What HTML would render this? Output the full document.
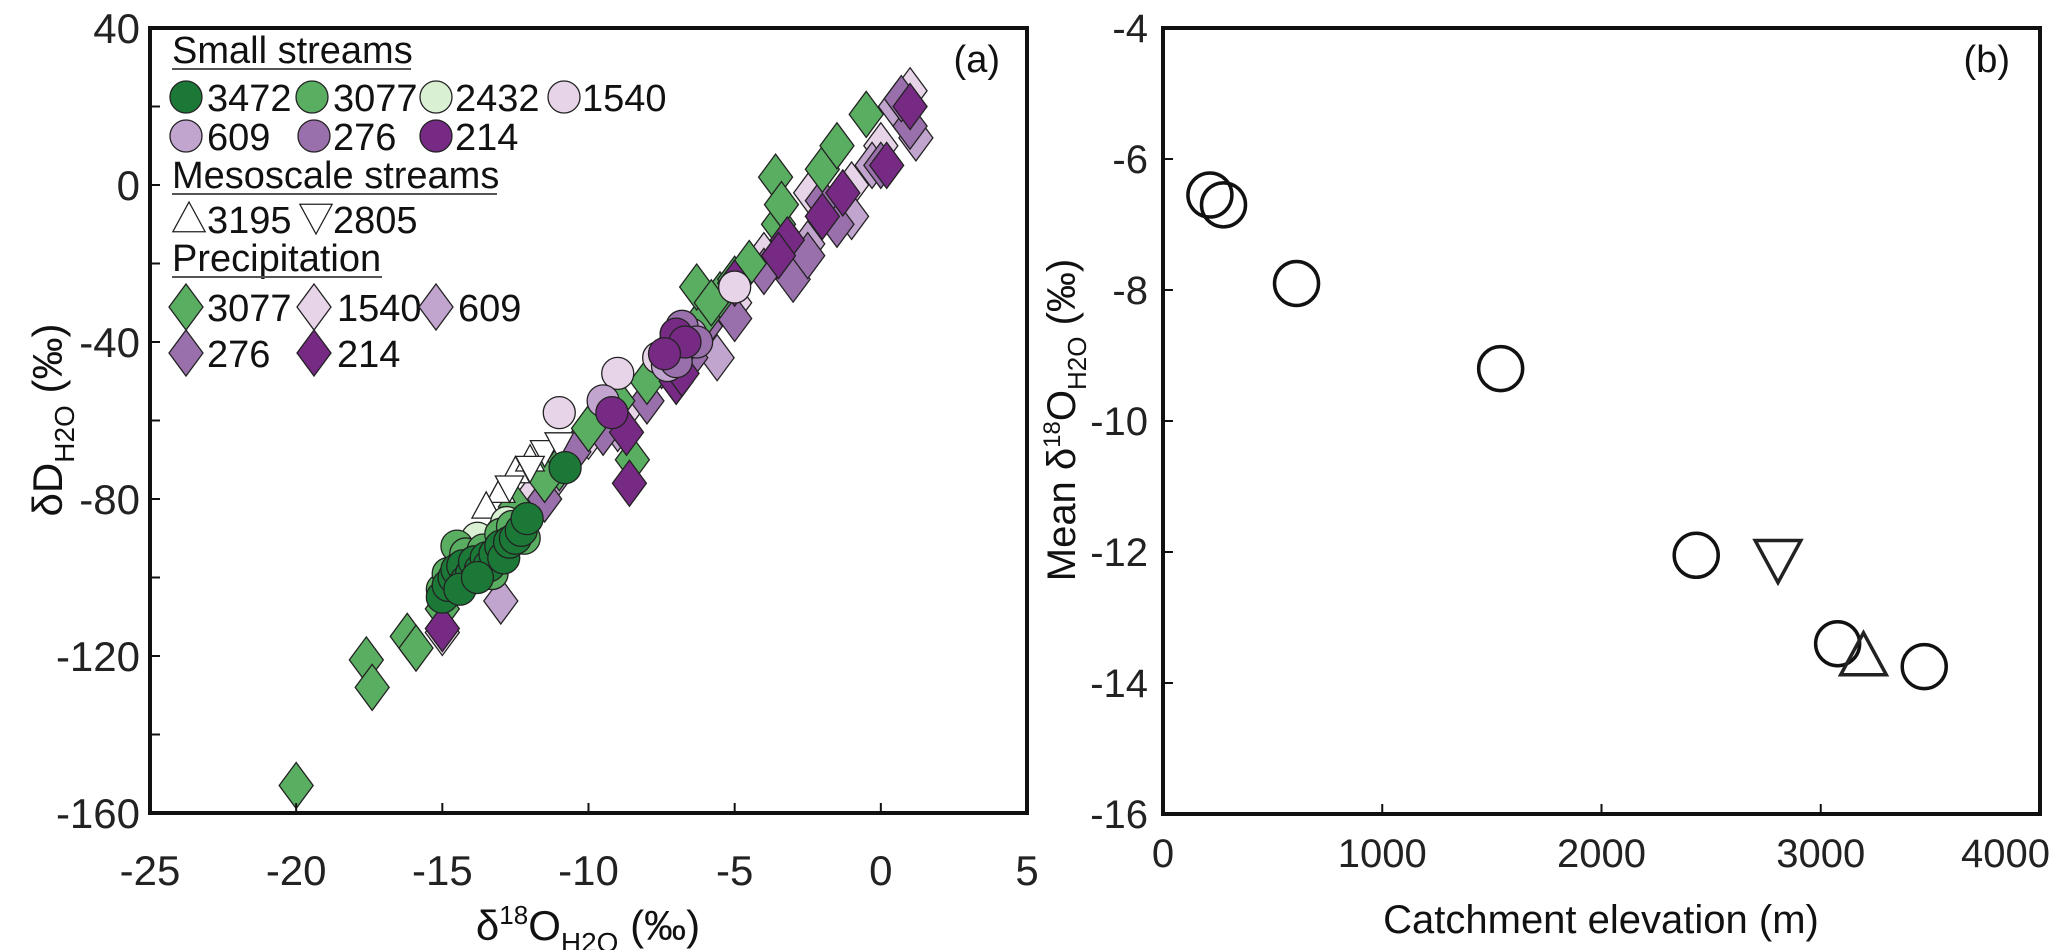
<!DOCTYPE html>
<html><head><meta charset="utf-8"><style>
html,body{margin:0;padding:0;background:#fff;}
svg{display:block;font-family:"Liberation Sans",Arial,sans-serif;}
</style></head><body>
<svg id="chart" width="2067" height="950" viewBox="0 0 2067 950">
<g id="pa"></g>
<g id="pb"></g>
</svg>
<script>
// ---------- Panel A data ----------
const aXTicks=[-25,-20,-15,-10,-5,0,5];
const aYTicks=[40,0,-40,-80,-120,-160];
const aYMinor=[20,-20,-60,-100,-140];
const s3472=[[-15,-105],[-14.8,-102],[-14.6,-100],[-14.5,-98],[-14.3,-97],[-14.2,-101],[-14,-99],[-13.9,-96],[-13.7,-98],[-13.5,-95],[-13.4,-97],[-13.2,-94],[-13,-92],[-12.9,-95],[-12.7,-91],[-12.5,-90],[-12.3,-88],[-12.1,-85],[-14.4,-103],[-13.8,-100],[-10.8,-72]];
const s3077=[[-14.5,-92],[-14.2,-94],[-13.6,-93],[-13,-89],[-12.6,-87],[-15,-103],[-14.8,-99],[-12.2,-90],[-13.3,-99]];
const s2432=[[-13.8,-90],[-12.8,-86]];
const s1540=[[-11,-58],[-9,-48],[-7,-38],[-5,-26],[-13.5,-97],[-7.6,-44]];
const s609=[[-7,-40],[-6.5,-38],[-9.5,-55],[-7.3,-46]];
const s276=[[-7.2,-42],[-6.8,-36],[-7,-45],[-6.3,-40]];
const s214=[[-7,-38],[-6.7,-40],[-9.2,-58],[-7.4,-43]];
const m3195=[[-12.5,-73],[-13,-78],[-13.5,-82],[-12,-70]];
const m2805=[[-11.5,-68],[-11,-66],[-12,-72],[-12.7,-77]];
const p3077=[[-20,-153],[-17.6,-121],[-17.4,-128],[-16.2,-115],[-15.9,-118],[-15,-108],[-14,-99],[-12.5,-82],[-11,-72],[-10,-62],[-9,-55],[-8.5,-70],[-8,-50],[-7,-42],[-6,-33],[-5.5,-28],[-5,-24],[-4.5,-20],[-3.5,-10],[-3.6,2],[-3.4,-5],[-2,4],[-1.5,10],[-0.5,18],[-11.5,-75],[-13,-88],[-6.3,-26],[-5.8,-30]];
const p1540=[[-15,-114],[-12,-80],[-10,-64],[-7,-44],[-5,-30],[-3,-16],[-2,-6],[0,10],[1,24],[-1,0],[-4,-18],[-8.8,-58],[-2.4,-2]];
const p609=[[-13,-106],[-7,-50],[-5.6,-44],[-3,-20],[-1,-8],[1.2,12],[-2.5,-15],[-9,-62],[-11.3,-76],[-6,-36],[0.5,20],[-0.3,5]];
const p276=[[-10.5,-68],[-9.5,-63],[-8,-55],[-6.5,-44],[-5,-34],[-3,-24],[-2.5,-18],[-1.5,-10],[0,5],[1,15],[-7.5,-46],[-4,-22],[-11.5,-80],[-6,-36],[-2,-4],[0.7,22]];
const p214=[[-15,-113],[-8.6,-76],[-8.7,-63],[-7,-50],[-6.8,-48],[-5,-25],[-3.2,-14],[-3.5,-18],[-1.3,-2],[1,20],[0.2,5],[-2,-8],[-6.6,-40]];
// ---------- Panel B data ----------
const bXTicks=[0,1000,2000,3000,4000];
const bYTicks=[-4,-6,-8,-10,-12,-14,-16];
const bCircElev=[214,276,609,1540,2432,3077,3472];
const bCircVal=[-6.55,-6.7,-7.9,-9.2,-12.05,-13.4,-13.75];
const bDownElev=[2805];const bDownVal=[-12.1];
const bUpElev=[3195];const bUpVal=[-13.6];

const NS="http://www.w3.org/2000/svg";
function mk(parent,tag,attrs,text){const e=document.createElementNS(NS,tag);for(const k in attrs)e.setAttribute(k,attrs[k]);if(text!==undefined)e.textContent=text;parent.appendChild(e);return e;}
const C={d3472:"#1b7837",d3077:"#5aae61",d2432:"#d9f0d3",d1540:"#e7d4e8",d609:"#c2a5cf",d276:"#9970ab",d214:"#762a83"};

// ---------- Panel A ----------
const pa=document.getElementById('pa');
const AL=150,AR=1027,AT=28,AB=813;
const ax=v=>AL+(v+25)/30*(AR-AL);
const ay=v=>AB-(v+160)/200*(AB-AT);
function circ(g,x,y,r,fill,name){const e=mk(g,'circle',{cx:x,cy:y,r:r,fill:fill,stroke:'#222','stroke-width':1.3});

}
function diam(g,x,y,w,h,fill,name){const e=mk(g,'polygon',{points:`${x},${y-h} ${x+w},${y} ${x},${y+h} ${x-w},${y}`,fill:fill,stroke:'#222','stroke-width':1.3});

}
function tri(g,x,y,s,up,name,sw){const h=s;const p=up?`${x},${y-h} ${x+h*0.95},${y+h*0.75} ${x-h*0.95},${y+h*0.75}`:`${x},${y+h} ${x+h*0.95},${y-h*0.75} ${x-h*0.95},${y-h*0.75}`;
const e=mk(g,'polygon',{points:p,fill:'#fff',stroke:'#222','stroke-width':sw||1.3});

}
const ga=mk(pa,'g',{});
[[p1540,C.d1540,'precip-1540'],[p609,C.d609,'precip-609'],[p276,C.d276,'precip-276'],[p3077,C.d3077,'precip-3077'],[p214,C.d214,'precip-214']].forEach(([arr,col,n])=>arr.forEach(p=>diam(ga,ax(p[0]),ay(p[1]),17,23,col,n+'-point')));
m3195.forEach(p=>tri(ga,ax(p[0]),ay(p[1]),15,true,'meso-3195-point'));
m2805.forEach(p=>tri(ga,ax(p[0]),ay(p[1]),15,false,'meso-2805-point'));
[[s1540,C.d1540,'stream-1540'],[s609,C.d609,'stream-609'],[s276,C.d276,'stream-276'],[s214,C.d214,'stream-214'],[s2432,C.d2432,'stream-2432'],[s3077,C.d3077,'stream-3077'],[s3472,C.d3472,'stream-3472']].forEach(([arr,col,n])=>arr.forEach(p=>circ(ga,ax(p[0]),ay(p[1]),16,col,n+'-point')));
// axes A
let fr=mk(pa,'rect',{x:AL,y:AT,width:AR-AL,height:AB-AT,fill:'none',stroke:'#111','stroke-width':4});


aXTicks.forEach(v=>{mk(pa,'line',{x1:ax(v),x2:ax(v),y1:AB,y2:AB-10,stroke:'#111','stroke-width':2});
const t=mk(pa,'text',{x:ax(v),y:885,'font-size':42,'text-anchor':'middle',fill:'#222'},String(v));

});
aYTicks.forEach(v=>{mk(pa,'line',{x1:AL,x2:AL+10,y1:ay(v),y2:ay(v),stroke:'#111','stroke-width':2});
const t=mk(pa,'text',{x:AL-10,y:ay(v)+15,'font-size':42,'text-anchor':'end',fill:'#222'},String(v));

});
aYMinor.forEach(v=>mk(pa,'line',{x1:AL,x2:AL+10,y1:ay(v),y2:ay(v),stroke:'#111','stroke-width':2}));
// legend
const lg=mk(pa,'g',{'font-size':38,fill:'#111'});


function hdr(txt,y,w){mk(lg,'text',{x:172,y:y},txt);mk(lg,'line',{x1:172,x2:172+w,y1:y+6,y2:y+6,stroke:'#555','stroke-width':2});}
hdr('Small streams',63,239);
hdr('Mesoscale streams',188,325);
hdr('Precipitation',271,210);
const lc=[[186,97,C.d3472,'3472',207],[312,97,C.d3077,'3077',333],[436,97,C.d2432,'2432',455],[564,97,C.d1540,'1540',582],[186,136,C.d609,'609',207],[314,136,C.d276,'276',333],[436,136,C.d214,'214',455]];
lc.forEach(c=>{circ(lg,c[0],c[1],16,c[2],'legend-circle-'+c[3]);mk(lg,'text',{x:c[4],y:c[1]+14},c[3]);});
tri(lg,189,219,17,true,'legend-triangle-3195');mk(lg,'text',{x:207,y:233},'3195');
tri(lg,316,217,17,false,'legend-triangle-2805');mk(lg,'text',{x:333,y:233},'2805');
const ld=[[186,307,C.d3077,'3077',207],[314,307,C.d1540,'1540',337],[436,307,C.d609,'609',458],[186,353,C.d276,'276',207],[314,353,C.d214,'214',337]];
ld.forEach(c=>{diam(lg,c[0],c[1],17,23,c[2],'legend-diamond-'+c[3]);mk(lg,'text',{x:c[4],y:c[1]+14},c[3]);});
let t1=mk(pa,'text',{x:1000,y:72,'font-size':38,'text-anchor':'end',fill:'#111'},'(a)');


let xl=mk(pa,'text',{x:588,y:940,'font-size':42,'text-anchor':'middle',fill:'#111'});
xl.innerHTML='δ<tspan font-size="26" dy="-16">18</tspan><tspan dy="16">O</tspan><tspan font-size="28" dy="12">H2O</tspan><tspan dy="-12"> (‰)</tspan>';


let yl=mk(pa,'text',{transform:'translate(62,420) rotate(-90)','font-size':42,'text-anchor':'middle',fill:'#111'});
yl.innerHTML='δD<tspan font-size="28" dy="12">H2O</tspan><tspan dy="-12"> (‰)</tspan>';



// ---------- Panel B ----------
const pb=document.getElementById('pb');
const BL=1163,BR=2040,BT=28,BB=814;
const bx=v=>BL+v/4000*(BR-BL);
const by=v=>BT+(-4-v)/12*(BB-BT);
let fb=mk(pb,'rect',{x:BL,y:BT,width:BR-BL,height:BB-BT,fill:'none',stroke:'#111','stroke-width':4});


bXTicks.forEach((v,i)=>{mk(pb,'line',{x1:bx(v),x2:bx(v),y1:BB,y2:BB-10,stroke:'#111','stroke-width':2});
const last=i===bXTicks.length-1;
const t=mk(pb,'text',{x:last?2050:bx(v),y:867,'font-size':40,'text-anchor':last?'end':'middle',fill:'#222'},String(v));

});
bYTicks.forEach(v=>{mk(pb,'line',{x1:BL,x2:BL+10,y1:by(v),y2:by(v),stroke:'#111','stroke-width':2});
const t=mk(pb,'text',{x:BL-15,y:by(v)+14,'font-size':40,'text-anchor':'end',fill:'#222'},String(v));

});
bCircElev.forEach((e,i)=>{const c=mk(pb,'circle',{cx:bx(e),cy:by(bCircVal[i]),r:22,fill:'none',stroke:'#111','stroke-width':3.5});

});
bDownElev.forEach((e,i)=>tri(pb,bx(e),by(bDownVal[i]),24,false,'mean-triangle-down',3.5));
bUpElev.forEach((e,i)=>tri(pb,bx(e),by(bUpVal[i]),24,true,'mean-triangle-up',3.5));
pb.querySelectorAll('polygon').forEach(p=>p.setAttribute('fill','none'));
let t2=mk(pb,'text',{x:2010,y:72,'font-size':38,'text-anchor':'end',fill:'#111'},'(b)');


let xb=mk(pb,'text',{x:1601,y:933,'font-size':40,'text-anchor':'middle',fill:'#111'},'Catchment elevation (m)');


let yb=mk(pb,'text',{transform:'translate(1075,420) rotate(-90)','font-size':40,'text-anchor':'middle',fill:'#111'});
yb.innerHTML='Mean δ<tspan font-size="24" dy="-15">18</tspan><tspan dy="15">O</tspan><tspan font-size="26" dy="11">H2O</tspan><tspan dy="-11"> (‰)</tspan>';


</script>
</body></html>
